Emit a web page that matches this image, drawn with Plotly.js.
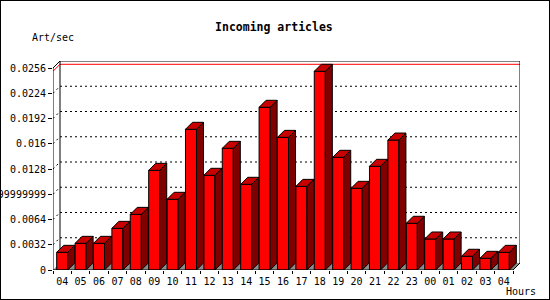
<!DOCTYPE html>
<html>
<head>
<meta charset="utf-8">
<script src="https://cdn.plot.ly/plotly-3.0.1.min.js"></script>
<style>
  body { margin: 0; padding: 0; background: #fff; }
  #wrap { position: relative; width: 550px; height: 300px; }
  #chart { width: 550px; height: 300px; }
  #frame { position: absolute; left: 0; top: 0; width: 550px; height: 300px; box-sizing: border-box; border: 1px solid #000; pointer-events: none; }
</style>
</head>
<body>
<div id="wrap"><div id="chart"></div><div id="frame"></div></div>
<script>
// ---- data ----
const hours = ["04","05","06","07","08","09","10","11","12","13","14","15","16","17","18","19","20","21","22","23","00","01","02","03","04"];
const artPerSec = [0.00224, 0.00338, 0.00338, 0.00528, 0.00705, 0.01263, 0.00896, 0.01783, 0.0120, 0.01542,
                   0.01086, 0.02062, 0.01681, 0.01060, 0.02518, 0.01428, 0.01035, 0.01314, 0.01647, 0.00592,
                   0.00393, 0.00393, 0.00174, 0.00148, 0.00224];
const yTickVals = [0, 0.0032, 0.0064, 0.0096, 0.0128, 0.016, 0.0192, 0.0224, 0.0256];
const yTickText = ["0", "0.0032", "0.0064", "0.009599999999", "0.0128", "0.016", "0.0192", "0.0224", "0.0256"];

// ---- geometry ----
const ML = 53, MR = 30, MT = 61, MB = 30;
const W = 550 - ML - MR, H = 300 - MT - MB;
const n = hours.length;
const depthPx = 7;
const yTop = yTickVals[yTickVals.length - 1];
const xPerPx = n / (W - depthPx);
const dx = depthPx * xPerPx;
const yPerPx = yTop / (H - depthPx);
const dy = depthPx * yPerPx;
const xs = hours.map((_, i) => i);
const bw = 0.6, hb = bw / 2;

// side faces and top faces
const sideX = [], sideY = [], topX = [], topY = [];
xs.forEach((x, i) => {
  const v = artPerSec[i];
  sideX.push(x + hb, x + hb + dx, x + hb + dx, x + hb, x + hb, null);
  sideY.push(0, dy, v + dy, v, 0, null);
  topX.push(x - hb, x - hb + dx, x + hb + dx, x + hb, x - hb, null);
  topY.push(v, v + dy, v + dy, v, v, null);
});

const font = "DejaVu Sans Mono, Liberation Mono, monospace";

const traces = [
  { type: "bar", x: xs, y: artPerSec, width: bw,
    marker: { color: "#ff0000", line: { color: "#000", width: 1 } }, hoverinfo: "skip" },
  { type: "scatter", mode: "lines", x: sideX, y: sideY, fill: "toself", fillcolor: "#800000",
    line: { color: "#000", width: 1 }, hoverinfo: "skip", connectgaps: false },
  { type: "scatter", mode: "lines", x: topX, y: topY, fill: "toself", fillcolor: "#c80000",
    line: { color: "#000", width: 1 }, hoverinfo: "skip", connectgaps: false }
];

const x0 = -0.5, x1 = n - 0.5;
const shapes = [];
// floor
shapes.push({ type: "path", layer: "below", xref: "x", yref: "y",
  path: `M ${x0} 0 L ${x1} 0 L ${x1 + dx} ${dy} L ${x0 + dx} ${dy} Z`,
  fillcolor: "#8c8c8c", line: { width: 0 } });
// back grid lines + diagonals
yTickVals.slice(1, -1).forEach(v => {
  shapes.push({ type: "line", layer: "below", x0: x0 + dx, x1: x1 + dx, y0: v + dy, y1: v + dy,
    line: { color: "#000", width: 1, dash: "2px,3px" } });
  shapes.push({ type: "line", layer: "below", x0: x0, x1: x0 + dx, y0: v, y1: v + dy,
    line: { color: "#000", width: 1, dash: "2px,3px" } });
});
// max line (red)
const vmax = Math.max(...artPerSec);
shapes.push({ type: "line", layer: "below", x0: x0 + dx, x1: x1 + dx, y0: vmax + dy, y1: vmax + dy,
  line: { color: "#ff0000", width: 1 } });
shapes.push({ type: "line", layer: "below", x0: x0, x1: x0 + dx, y0: vmax, y1: vmax + dy,
  line: { color: "#ff0000", width: 1 } });
// back plane frame
shapes.push({ type: "path", layer: "below",
  path: `M ${x0 + dx} ${dy} L ${x0 + dx} ${yTop + dy} L ${x1 + dx} ${yTop + dy} L ${x1 + dx} ${dy}`,
  line: { color: "#000", width: 1 } });
// front axes
shapes.push({ type: "path", layer: "above",
  path: `M ${x0 + dx} ${yTop + dy} L ${x0} ${yTop} L ${x0} 0 L ${x1} 0 L ${x1 + dx} ${dy}`,
  line: { color: "#000", width: 1 } });

const px2x = px => (px - ML) / W;
const py2y = py => (300 - MB - py) / H;

const layout = {
  width: 550, height: 300,
  margin: { l: ML, r: MR, t: MT, b: MB, pad: 0 },
  paper_bgcolor: "#fff", plot_bgcolor: "rgba(0,0,0,0)",
  showlegend: false,
  font: { family: font, size: 10, color: "#000" },
  title: { text: "<b>Incoming articles</b>", font: { family: font, size: 11.5, color: "#000" },
    xref: "container", x: 0.498, xanchor: "center", yref: "container", y: 1 - 26.5 / 300, yanchor: "middle" },
  bargap: 0,
  xaxis: {
    type: "linear", range: [x0, x1 + dx], fixedrange: true,
    tickmode: "array", tickvals: xs, ticktext: hours, ticks: "", showline: false,
    showgrid: false, zeroline: false, automargin: false, ticklabelstandoff: 4,
    tickfont: { family: font, size: 10, color: "#000" },
    minor: { tickmode: "array", tickvals: xs.map(x => x - 0.5).concat([x1]), ticks: "outside", ticklen: 3,
      tickcolor: "#000", tickwidth: 1, showgrid: false }
  },
  yaxis: {
    range: [0, yTop + dy], fixedrange: true,
    tickmode: "array", tickvals: yTickVals, ticktext: yTickText,
    ticks: "outside", ticklen: 4, tickcolor: "#000", tickwidth: 1,
    showline: false, showgrid: false, zeroline: false, automargin: false,
    tickfont: { family: font, size: 10, color: "#000" }
  },
  shapes: shapes,
  annotations: [
    { text: "Art/sec", xref: "paper", yref: "paper", x: px2x(30), y: py2y(37), xanchor: "left", yanchor: "middle",
      showarrow: false, font: { family: font, size: 10, color: "#000" } },
    { text: "Hours", xref: "paper", yref: "paper", x: px2x(504), y: py2y(291.5), xanchor: "left", yanchor: "middle",
      showarrow: false, font: { family: font, size: 10, color: "#000" } }
  ]
};

Plotly.newPlot("chart", traces, layout, { staticPlot: true, displayModeBar: false });
</script>
</body>
</html>
